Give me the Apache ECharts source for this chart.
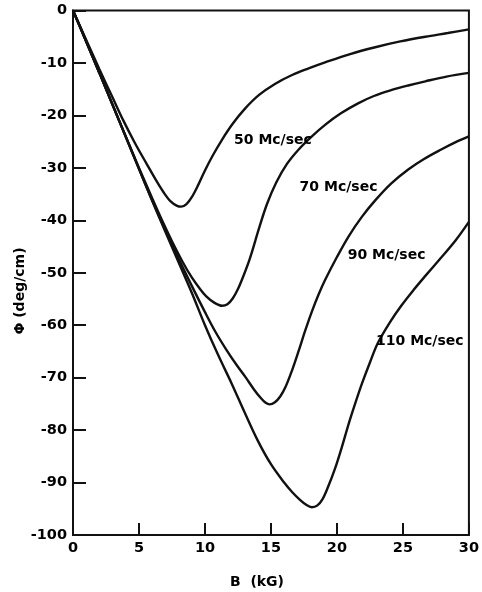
<!DOCTYPE html>
<html>
<head>
<meta charset="utf-8">
<script src="https://cdn.jsdelivr.net/npm/echarts@6/dist/echarts.min.js"></script>
<style>
  html, body { margin: 0; padding: 0; background: #fff; }
  #chart { width: 482px; height: 592px; }
</style>
</head>
<body>
<div id="chart"></div>
<script>
// Faraday rotation Φ (deg/cm) versus magnetic field B (kG) at four frequencies.

const b50   = [0, 1, 2, 3, 3.8, 4.7, 5.55, 6.3, 6.9, 7.4, 7.85, 8.2, 8.6, 9.0, 9.5, 10.0, 10.6, 11.3, 12.1, 13.0, 14.1, 15.3, 16.6, 17.9, 19.1, 21, 22.9, 24.8, 26.7, 28.4, 30];
const phi50 = [0, -5.6, -11.2, -16.6, -20.9, -25.3, -29.1, -32.4, -34.8, -36.4, -37.2, -37.4, -36.9, -35.6, -33.2, -30.5, -27.6, -24.6, -21.6, -18.8, -16.1, -14, -12.3, -11, -9.9, -8.3, -7, -5.9, -5, -4.3, -3.6];

const b70   = [0, 1, 2, 3, 4, 5, 6, 6.8, 7.5, 8.3, 9, 9.6, 10.1, 10.7, 11.3, 11.7, 12.1, 12.5, 12.9, 13.4, 14.1, 14.7, 15.4, 16.2, 17.1, 18.1, 19.1, 20.3, 21.6, 22.8, 24.1, 25.4, 26.7, 28.3, 30];
const phi70 = [0, -5.9, -11.9, -18, -24, -30, -35.8, -40.3, -44, -47.9, -50.9, -53, -54.5, -55.7, -56.3, -56, -54.9, -53.1, -50.7, -47.3, -41.5, -36.9, -32.8, -29.3, -26.5, -24, -21.8, -19.6, -17.7, -16.3, -15.2, -14.3, -13.5, -12.6, -11.9];

const b90   = [0, 1, 2, 3, 4, 5, 6, 7, 8, 9, 10, 10.8, 11.6, 12.4, 13.1, 13.7, 14.2, 14.6, 14.9, 15.3, 15.7, 16.1, 16.6, 17.1, 17.6, 18.1, 18.6, 19.1, 20, 20.9, 21.9, 22.9, 24.1, 25.4, 26.6, 27.9, 29, 30];
const phi90 = [0, -5.9, -11.9, -18, -24.1, -30.2, -36.2, -41.9, -47.3, -52.5, -57.5, -61.3, -64.6, -67.6, -70, -72.2, -73.8, -74.8, -75.1, -74.7, -73.6, -71.8, -68.6, -64.9, -61, -57.4, -54.2, -51.4, -47, -43, -39.3, -36.2, -33, -30.3, -28.3, -26.5, -25.1, -24];

const b110   = [0, 1, 2, 3, 4, 5, 6, 7, 8, 9, 10, 11, 12, 13, 14, 15, 16, 16.6, 17.2, 17.7, 18.1, 18.5, 18.9, 19.3, 19.9, 20.4, 20.9, 21.4, 21.9, 22.5, 23.1, 24, 24.9, 25.8, 26.7, 27.9, 29, 30];
const phi110 = [0, -5.9, -11.9, -18, -24.1, -30.2, -36.3, -42.2, -48, -53.8, -60, -65.7, -71, -76.6, -82, -86.5, -90, -91.8, -93.3, -94.3, -94.7, -94.4, -93.2, -91, -87, -83, -78.7, -74.8, -71.1, -67.1, -63.4, -59.5, -56.2, -53.3, -50.6, -47.1, -43.8, -40.3];

const curveNames = ['50 Mc/sec', '70 Mc/sec', '90 Mc/sec', '110 Mc/sec'];

// Axis ticks
const xTicks = [0, 5, 10, 15, 20, 25, 30];
const yTicks = [0, -10, -20, -30, -40, -50, -60, -70, -80, -90, -100];

// Where each curve's name is written, in data units (B, Φ)
const noteAnchors = [[15.15, -24.7], [20.12, -33.8], [23.76, -46.6], [26.28, -63.15]];

const INK = '#000';
const FONT = 'DejaVu Sans';

function pairs(xs, ys) { return xs.map((x, i) => [x, ys[i]]); }

const curves = [[b50, phi50], [b70, phi70], [b90, phi90], [b110, phi110]];

const series = curves.map(([xs, ys], i) => ({
  name: curveNames[i],
  type: 'line',
  data: pairs(xs, ys),
  smooth: 0.35,
  showSymbol: false,
  silent: true,
  lineStyle: { color: '#111', width: 2.4 },
  z: 3
}));

series.push({
  type: 'scatter',
  symbolSize: 0,
  silent: true,
  itemStyle: { opacity: 1 },
  data: noteAnchors.map((p, i) => ({ value: p, name: curveNames[i] })),
  label: {
    show: true,
    position: 'inside',
    formatter: p => p.name,
    color: INK,
    opacity: 1,
    fontFamily: FONT,
    fontWeight: 'bold',
    fontSize: 14
  },
  z: 4
});

const chart = echarts.init(document.getElementById('chart'), null, { renderer: 'canvas' });

const tickFont = { color: INK, fontFamily: FONT, fontWeight: 'bold', fontSize: 14.5, margin: 6 };

chart.setOption({
  animation: false,
  backgroundColor: '#fff',
  grid: {
    left: 73, right: 11, top: 10.5, bottom: 57,
    show: true, borderColor: '#111', borderWidth: 2, backgroundColor: 'transparent'
  },
  xAxis: {
    type: 'value',
    min: xTicks[0], max: xTicks[xTicks.length - 1], interval: 5,
    axisLine: { show: true, onZero: false, lineStyle: { color: '#111', width: 2 } },
    axisTick: { show: true, inside: true, length: 12, lineStyle: { color: '#111', width: 2 } },
    axisLabel: tickFont,
    splitLine: { show: false }
  },
  yAxis: {
    type: 'value',
    min: yTicks[yTicks.length - 1], max: yTicks[0], interval: 10,
    axisLine: { show: true, onZero: false, lineStyle: { color: '#111', width: 2 } },
    axisTick: { show: true, inside: true, length: 13, lineStyle: { color: '#111', width: 2 } },
    axisLabel: tickFont,
    splitLine: { show: false }
  },
  graphic: [
    {
      type: 'text',
      x: 20, y: 291,
      rotation: Math.PI / 2,
      style: {
        text: 'Φ (deg/cm)',
        fill: INK,
        font: 'bold 14px "' + FONT + '"',
        align: 'center',
        verticalAlign: 'middle'
      }
    },
    {
      type: 'text',
      x: 257, y: 582,
      style: {
        text: 'B  (kG)',
        fill: INK,
        font: 'bold 14px "' + FONT + '"',
        align: 'center',
        verticalAlign: 'middle'
      }
    }
  ],
  series: series
});
</script>
</body>
</html>
